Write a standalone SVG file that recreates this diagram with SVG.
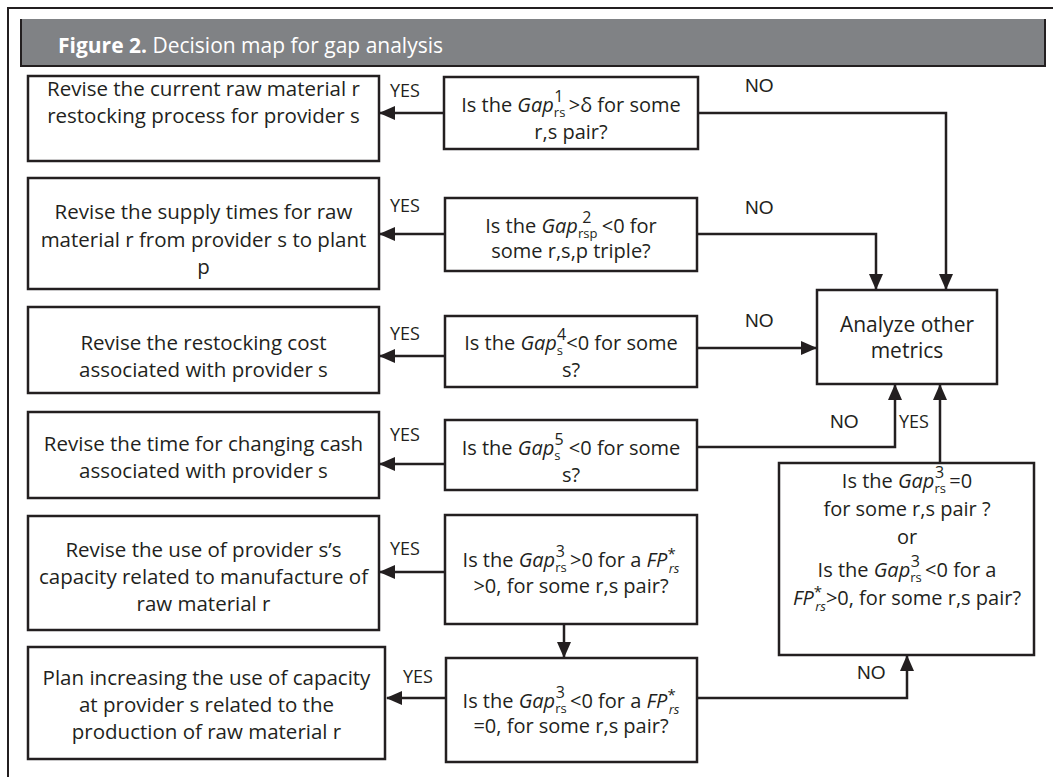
<svg xmlns="http://www.w3.org/2000/svg" width="1053" height="777" viewBox="0 0 1053 777">
<defs>
<style>
.box{fill:#fff;stroke:#231f20;stroke-width:2.5}
.ln{fill:none;stroke:#231f20;stroke-width:2.5}
.t{font-family:"Open Sans","Noto Sans",sans-serif;font-size:20.5px;fill:#231f20;text-anchor:middle}
.m{font-size:20px}
.an{font-size:21px}
.i{font-style:italic}
.sub{font-size:13px}
.sup{font-size:16px}
.ast{font-size:15px}
.yes{font-family:"Open Sans","Noto Sans",sans-serif;font-size:18px;fill:#231f20}
.no{font-family:"Liberation Sans",Arial,sans-serif;font-size:19px;fill:#231f20}
.hd{font-family:"Open Sans","Noto Sans",sans-serif;font-size:21px;fill:#fff}
</style>
<marker id="ah" markerUnits="userSpaceOnUse" markerWidth="16" markerHeight="14" refX="15" refY="7" orient="auto">
<path d="M0,0 L16,7 L0,14 Z" fill="#231f20"/>
</marker>
</defs>
<rect width="1053" height="777" fill="#fff"/>
<path d="M8,777 V8 H1053" fill="none" stroke="#231f20" stroke-width="2"/>
<g id="header">
<rect x="21" y="19" width="1024" height="47" fill="#808285"/>
<path d="M21,19 V66 H1045 V19" fill="none" stroke="#231f20" stroke-width="2"/>
<text x="58" y="53" class="hd"><tspan font-weight="bold">Figure 2.</tspan> Decision map for gap analysis</text>
</g>
<g id="connectors">
<path class="ln" d="M444,113 H380" marker-end="url(#ah)"/>
<path class="ln" d="M698,113 H946 V289" marker-end="url(#ah)"/>
<path class="ln" d="M445,234 H380" marker-end="url(#ah)"/>
<path class="ln" d="M697,234 H876 V289" marker-end="url(#ah)"/>
<path class="ln" d="M445,356 H380" marker-end="url(#ah)"/>
<path class="ln" d="M697,348 H816" marker-end="url(#ah)"/>
<path class="ln" d="M445,464 H380" marker-end="url(#ah)"/>
<path class="ln" d="M697,447 H895 V385" marker-end="url(#ah)"/>
<path class="ln" d="M445,572 H380" marker-end="url(#ah)"/>
<path class="ln" d="M564,624 V657" marker-end="url(#ah)"/>
<path class="ln" d="M446,698 H387" marker-end="url(#ah)"/>
<path class="ln" d="M697,698 H907 V656" marker-end="url(#ah)"/>
<path class="ln" d="M940,463 V385" marker-end="url(#ah)"/>
<text class="yes" x="390" y="97">YES</text>
<text class="yes" x="390" y="212">YES</text>
<text class="yes" x="390" y="340">YES</text>
<text class="yes" x="390" y="441">YES</text>
<text class="yes" x="390" y="555">YES</text>
<text class="yes" x="403" y="683">YES</text>
<text class="yes" x="899" y="428">YES</text>
<text class="no" x="745" y="92">NO</text>
<text class="no" x="745" y="214">NO</text>
<text class="no" x="745" y="327">NO</text>
<text class="no" x="830" y="428">NO</text>
<text class="no" x="857" y="679">NO</text>
</g>
<g id="a1">
<rect class="box" x="28" y="76" width="351" height="85"/>
<text class="t" x="203.5" y="96">Revise the current raw material r</text>
<text class="t" x="203.5" y="123">restocking process for provider s</text>
</g>
<g id="a2">
<rect class="box" x="28" y="178" width="351" height="111"/>
<text class="t" x="203.5" y="219">Revise the supply times for raw</text>
<text class="t" x="203.5" y="247">material r from provider s to plant</text>
<text class="t" x="203.5" y="274">p</text>
</g>
<g id="a3">
<rect class="box" x="28" y="307" width="351" height="86"/>
<text class="t" x="203.5" y="350">Revise the restocking cost</text>
<text class="t" x="203.5" y="377">associated with provider s</text>
</g>
<g id="a4">
<rect class="box" x="28" y="412" width="351" height="86"/>
<text class="t" x="203.5" y="451">Revise the time for changing cash</text>
<text class="t" x="203.5" y="478">associated with provider s</text>
</g>
<g id="a5">
<rect class="box" x="28" y="516" width="351" height="114"/>
<text class="t" x="203.5" y="557">Revise the use of provider s’s</text>
<text class="t" x="203.5" y="584">capacity related to manufacture of</text>
<text class="t" x="203.5" y="611">raw material r</text>
</g>
<g id="a6">
<rect class="box" x="28" y="647" width="357" height="112"/>
<text class="t" x="206.5" y="685">Plan increasing the use of capacity</text>
<text class="t" x="206.5" y="712">at provider s related to the</text>
<text class="t" x="206.5" y="739">production of raw material r</text>
</g>
<g id="q1">
<rect class="box" x="444" y="77" width="254" height="72"/>
<text class="t m" x="571" y="112">Is the <tspan class="i">Gap</tspan><tspan class="sub" dy="5">rs</tspan><tspan class="sup" dx="-11" dy="-15">1</tspan><tspan dy="10"> &gt;δ for some</tspan></text>
<text class="t m" x="571" y="139">r,s pair?</text>
</g>
<g id="q2">
<rect class="box" x="445" y="198" width="252" height="73"/>
<text class="t m" x="571" y="233">Is the <tspan class="i">Gap</tspan><tspan class="sub" dy="5">rsp</tspan><tspan class="sup" dx="-15" dy="-15">2</tspan><tspan dx="5" dy="10"> &lt;0 for</tspan></text>
<text class="t m" x="571" y="258">some r,s,p triple?</text>
</g>
<g id="q3">
<rect class="box" x="445" y="316" width="252" height="71"/>
<text class="t m" x="571" y="350">Is the <tspan class="i">Gap</tspan><tspan class="sub" dy="5">s</tspan><tspan class="sup" dx="-6" dy="-15">4</tspan><tspan dy="10">&lt;0 for some</tspan></text>
<text class="t m" x="571" y="377">s?</text>
</g>
<g id="q4">
<rect class="box" x="445" y="420" width="252" height="70"/>
<text class="t m" x="571" y="455">Is the <tspan class="i">Gap</tspan><tspan class="sub" dy="5">s</tspan><tspan class="sup" dx="-6" dy="-15">5</tspan><tspan dy="10"> &lt;0 for some</tspan></text>
<text class="t m" x="571" y="482">s?</text>
</g>
<g id="q5">
<rect class="box" x="445" y="515" width="252" height="109"/>
<text class="t m" x="571" y="567">Is the <tspan class="i">Gap</tspan><tspan class="sub" dy="5">rs</tspan><tspan class="sup" dx="-11" dy="-15">3</tspan><tspan dy="10"> &gt;0 for a </tspan><tspan class="i">FP</tspan><tspan class="ast" dy="-8">*</tspan><tspan class="sub i" dx="-7" dy="14">rs</tspan><tspan dy="-6"></tspan></text>
<text class="t m" x="571" y="593">&gt;0, for some r,s pair?</text>
</g>
<g id="q6">
<rect class="box" x="446" y="658" width="251" height="104"/>
<text class="t m" x="571" y="708">Is the <tspan class="i">Gap</tspan><tspan class="sub" dy="5">rs</tspan><tspan class="sup" dx="-11" dy="-15">3</tspan><tspan dy="10"> &lt;0 for a </tspan><tspan class="i">FP</tspan><tspan class="ast" dy="-8">*</tspan><tspan class="sub i" dx="-7" dy="14">rs</tspan><tspan dy="-6"></tspan></text>
<text class="t m" x="571" y="733">=0, for some r,s pair?</text>
</g>
<g id="analyze">
<rect class="box" x="817" y="290" width="180" height="94"/>
<text class="t an" x="907" y="332">Analyze other</text>
<text class="t an" x="907" y="358">metrics</text>
</g>
<g id="q7">
<rect class="box" x="779" y="463" width="255" height="192"/>
<text class="t m" x="907" y="488">Is the <tspan class="i">Gap</tspan><tspan class="sub" dy="5">rs</tspan><tspan class="sup" dx="-11" dy="-15">3</tspan><tspan dy="10"> =0</tspan></text>
<text class="t m" x="907" y="516">for some r,s pair ?</text>
<text class="t m" x="907" y="544">or</text>
<text class="t m" x="907" y="577">Is the <tspan class="i">Gap</tspan><tspan class="sub" dy="5">rs</tspan><tspan class="sup" dx="-11" dy="-15">3</tspan><tspan dy="10"> &lt;0 for a</tspan></text>
<text class="t m" x="907" y="605"><tspan class="i">FP</tspan><tspan class="ast" dy="-8">*</tspan><tspan class="sub i" dx="-7" dy="14">rs</tspan><tspan dy="-6">&gt;0, for some r,s pair?</tspan></text>
</g>
</svg>
